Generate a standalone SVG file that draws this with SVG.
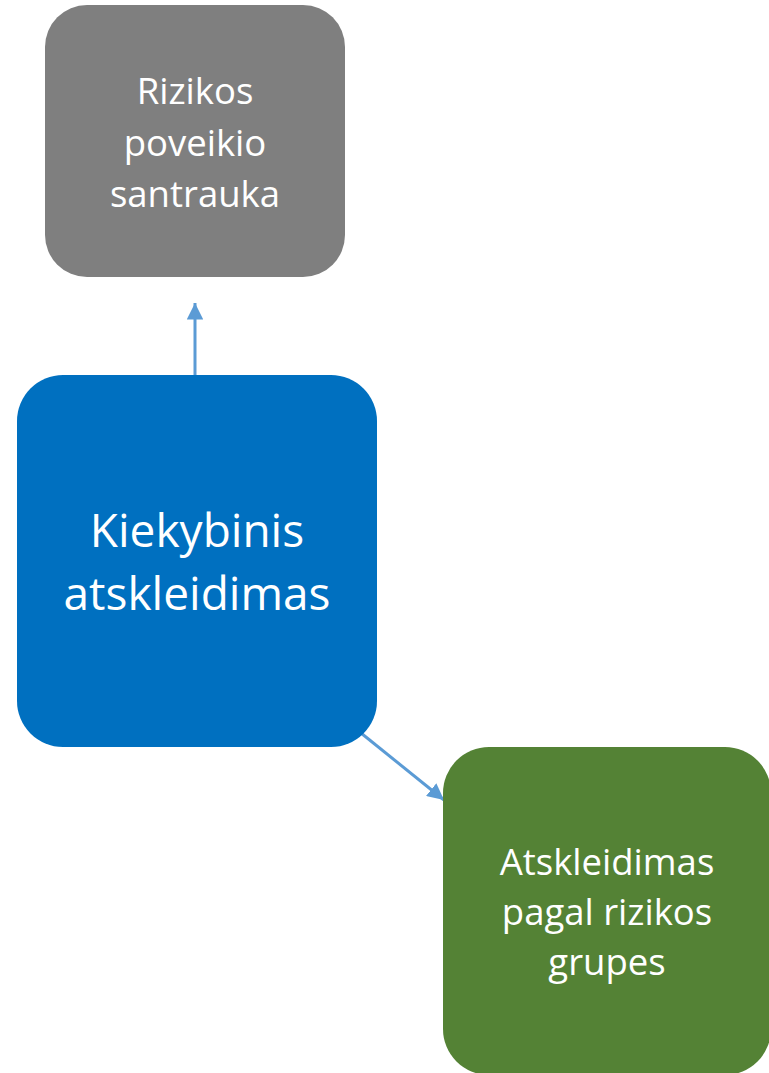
<svg xmlns="http://www.w3.org/2000/svg" width="769" height="1073" viewBox="0 0 769 1073">
<style>
.lbl{font-family:"Open Sans","Noto Sans","Liberation Sans",sans-serif;fill:#ffffff;text-anchor:middle}
.sm{font-size:36.5px}
.lg{font-size:46px}
.conn{stroke:#5b9bd5;stroke-width:3;fill:none}
</style>
<defs>
<marker id="ah" viewBox="0 0 10 10" refX="10" refY="5" markerWidth="5.5" markerHeight="5.5" orient="auto" markerUnits="strokeWidth">
<path d="M0,0 L10,5 L0,10 z" fill="#5b9bd5"/>
</marker>
</defs>
<rect width="769" height="1073" fill="#ffffff"/>
<g id="connectors">
<line class="conn" x1="195" y1="376" x2="195" y2="303" marker-end="url(#ah)"/>
<line class="conn" x1="356" y1="729" x2="444" y2="800" marker-end="url(#ah)"/>
</g>
<g id="node-rizikos">
<rect x="45" y="5" width="300" height="272" rx="42" fill="#7f7f7f"/>
<text class="lbl sm" x="195" y="104">Rizikos</text>
<text class="lbl sm" x="195" y="155.5">poveikio</text>
<text class="lbl sm" x="195" y="207">santrauka</text>
</g>
<g id="node-kiekybinis">
<rect x="17" y="375" width="360" height="372" rx="46" fill="#0070c0"/>
<text class="lbl lg" x="197" y="547">Kiekybinis</text>
<text class="lbl lg" x="197" y="610">atskleidimas</text>
</g>
<g id="node-atskleidimas">
<rect x="443" y="747" width="328" height="328" rx="46" fill="#548235"/>
<text class="lbl sm" x="607" y="875">Atskleidimas</text>
<text class="lbl sm" x="607" y="925">pagal rizikos</text>
<text class="lbl sm" x="607" y="975">grupes</text>
</g>
</svg>
